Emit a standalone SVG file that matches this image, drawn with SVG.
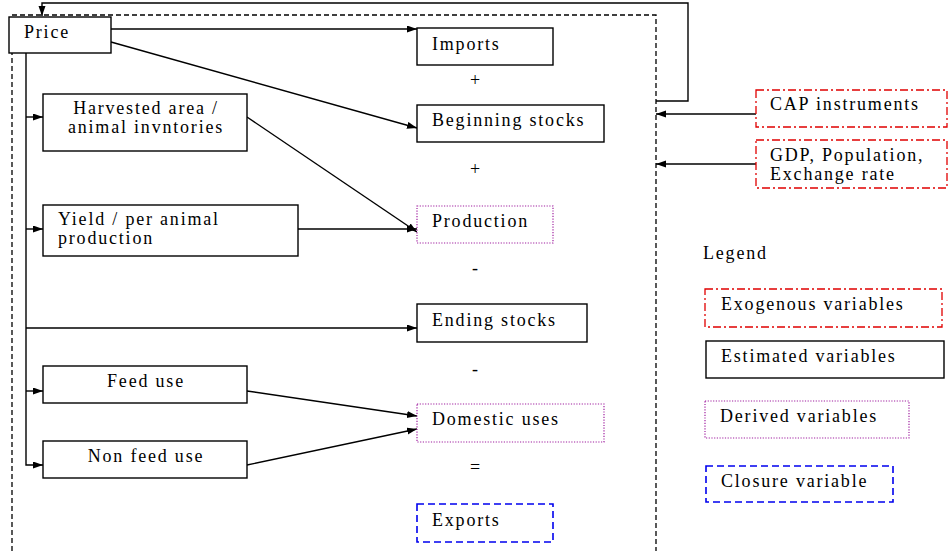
<svg xmlns="http://www.w3.org/2000/svg" width="950" height="551" viewBox="0 0 950 551">
<defs>
<marker id="ah" markerWidth="11" markerHeight="8" refX="10" refY="3.5" orient="auto" markerUnits="userSpaceOnUse">
<path d="M0,0 L10,3.5 L0,7 z" fill="#000"/>
</marker>
<style>
text{font-family:"Liberation Serif","Times New Roman","DejaVu Serif",serif;font-size:18px;letter-spacing:1.8px;fill:#000}
.c{text-anchor:middle}
.est{fill:#fff;stroke:#000;stroke-width:1.4}
.exo{fill:#fff;stroke:#e00000;stroke-width:1.3;stroke-dasharray:8,3,2,3}
.der{fill:#fff;stroke:#a020a0;stroke-width:1.2;stroke-dasharray:1.2,1.5}
.clo{fill:#fff;stroke:#0000ee;stroke-width:1.6;stroke-dasharray:7,4}
.ln{fill:none;stroke:#000;stroke-width:1.4}
.bd{fill:none;stroke:#000;stroke-width:1.3;stroke-dasharray:5,3}
</style>
</defs>
<rect width="950" height="551" fill="#fff"/>
<g id="boundary">
<path class="bd" d="M12,551 V15 H656 V551"/>
</g>
<g id="connectors">
<path class="ln" d="M656,101 H688 V3 H42 V16" marker-end="url(#ah)"/>
<path class="ln" d="M111,29 H417" marker-end="url(#ah)"/>
<path class="ln" d="M111,42 L417,128" marker-end="url(#ah)"/>
<path class="ln" d="M26,53 V465 H43" marker-end="url(#ah)"/>
<path class="ln" d="M26,117 H43" marker-end="url(#ah)"/>
<path class="ln" d="M26,229 H43" marker-end="url(#ah)"/>
<path class="ln" d="M26,328 H417" marker-end="url(#ah)"/>
<path class="ln" d="M26,391 H43" marker-end="url(#ah)"/>
<path class="ln" d="M247,117 L417,232" marker-end="url(#ah)"/>
<path class="ln" d="M298,229 H417" marker-end="url(#ah)"/>
<path class="ln" d="M247,391 L417,416" marker-end="url(#ah)"/>
<path class="ln" d="M247,465 L417,429" marker-end="url(#ah)"/>
<path class="ln" d="M756,114 H656" marker-end="url(#ah)"/>
<path class="ln" d="M756,164 H656" marker-end="url(#ah)"/>
</g>
<g id="price"><rect class="est" x="9" y="17" width="102" height="36"/><text x="24" y="38">Price</text></g>
<g id="imports"><rect class="est" x="417" y="28" width="136" height="37"/><text x="432" y="50">Imports</text></g>
<text x="476" y="86" class="c">+</text>
<g id="beginning-stocks"><rect class="est" x="417" y="105" width="187" height="37"/><text x="432" y="126">Beginning stocks</text></g>
<text x="476" y="175" class="c">+</text>
<g id="harvested-area"><rect class="est" x="43" y="94" width="204" height="57"/><text x="146" y="114" class="c">Harvested area /</text><text x="146" y="133" class="c">animal invntories</text></g>
<g id="yield"><rect class="est" x="43" y="205" width="255" height="51"/><text x="58" y="225">Yield / per animal</text><text x="58" y="244">production</text></g>
<g id="production"><rect class="der" x="417" y="206" width="136" height="37"/><text x="432" y="227">Production</text></g>
<text x="476" y="274" class="c">-</text>
<g id="ending-stocks"><rect class="est" x="417" y="304" width="170" height="38"/><text x="432" y="326">Ending stocks</text></g>
<text x="476" y="375" class="c">-</text>
<g id="feed-use"><rect class="est" x="43" y="366" width="204" height="37"/><text x="146" y="387" class="c">Feed use</text></g>
<g id="non-feed-use"><rect class="est" x="43" y="441" width="204" height="37"/><text x="146" y="462" class="c">Non feed use</text></g>
<g id="domestic-uses"><rect class="der" x="417" y="404" width="187" height="38"/><text x="432" y="425">Domestic uses</text></g>
<text x="476" y="473" class="c">=</text>
<g id="exports"><rect class="clo" x="417" y="504" width="136" height="38"/><text x="432" y="526">Exports</text></g>
<g id="cap-instruments"><rect class="exo" x="756" y="90" width="191" height="37"/><text x="770" y="110">CAP instruments</text></g>
<g id="gdp"><rect class="exo" x="756" y="140" width="191" height="48"/><text x="770" y="161">GDP, Population,</text><text x="770" y="180">Exchange rate</text></g>
<g id="legend">
<text x="703" y="259">Legend</text>
<rect class="exo" x="705" y="289" width="237" height="38"/><text x="721" y="310">Exogenous variables</text>
<rect class="est" x="706" y="341" width="238" height="37"/><text x="721" y="362">Estimated variables</text>
<rect class="der" x="705" y="401" width="204" height="37"/><text x="720" y="422">Derived variables</text>
<rect class="clo" x="706" y="466" width="187" height="36"/><text x="721" y="487">Closure variable</text>
</g>
</svg>
